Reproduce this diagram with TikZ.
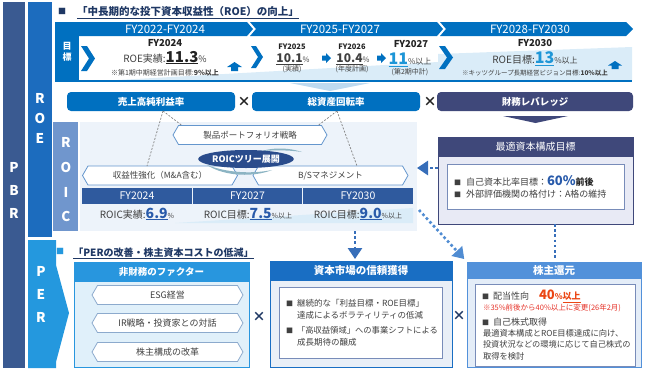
\documentclass[tikz,border=0pt]{standalone}
\usepackage{fontspec}
\setmainfont{Noto Sans CJK JP}
\usetikzlibrary{shapes.symbols,shapes.geometric,arrows.meta,calc}
\definecolor{pbrc}{RGB}{58,90,145}
\definecolor{roec}{RGB}{28,108,190}
\definecolor{mblue}{RGB}{0,112,192}
\definecolor{navy}{RGB}{63,72,122}
\definecolor{roicc}{RGB}{112,150,205}
\definecolor{thead}{RGB}{47,90,158}
\definecolor{lblue}{RGB}{218,236,248}
\definecolor{ltri}{RGB}{190,218,240}
\definecolor{pale}{RGB}{237,243,250}
\definecolor{perc}{RGB}{36,152,222}
\definecolor{hexb}{RGB}{100,150,205}
\definecolor{hexg}{RGB}{140,170,205}
\definecolor{txt}{RGB}{64,64,64}
\definecolor{cyanv}{RGB}{30,150,215}
\definecolor{numb}{RGB}{40,90,170}
\definecolor{dotc}{RGB}{55,110,185}
\definecolor{dotd}{RGB}{80,140,210}
\definecolor{redv}{RGB}{235,70,20}
\definecolor{redn}{RGB}{230,50,40}
\definecolor{lavb}{RGB}{232,234,245}
\definecolor{hdra}{RGB}{40,150,222}
\definecolor{hdrb}{RGB}{25,110,195}
\definecolor{hdrc}{RGB}{82,145,218}
\definecolor{ttl}{RGB}{31,56,100}
\definecolor{tree}{RGB}{42,76,140}
\definecolor{swoosh}{RGB}{140,180,195}
\definecolor{bodya}{RGB}{224,240,250}
\definecolor{bodyb}{RGB}{233,239,247}
\definecolor{bodyc}{RGB}{228,237,248}
\definecolor{innb}{RGB}{120,140,185}
\definecolor{dark}{RGB}{34,34,34}
\definecolor{dash}{RGB}{128,128,128}
\newcommand{\fsz}[1]{\fontsize{#1}{#1}\selectfont}
\begin{document}
\begin{tikzpicture}[x=1pt,y=-1pt,
  every node/.style={inner sep=0pt,outer sep=0pt},
  colletter/.style={text=white,font=\fsz{13.5}\bfseries},
  bantext/.style={text=white,font=\fsz{11.5}},
  factor/.style={rounded corners=4pt,minimum height=19pt,text=white,font=\fsz{9.5}\bfseries},
  hexnode/.style={signal,signal to=east and west,signal pointer angle=120,fill=white,draw=#1,line width=0.8pt,minimum height=19pt,text=txt,font=\fsz{8.5}},
  dashline/.style={draw=dash,line width=0.7pt,dash pattern=on 2pt off 1.5pt},
  dotline/.style={line width=2.6pt,dash pattern=on 2.6pt off 2.6pt},
  bigtip/.style={-{Triangle[length=11pt,width=14pt]}},
  cross/.style={font=\fsz{13}\bfseries},
  boxhead/.style={text=white,font=\fsz{10.5}\bfseries},
  line/.style={anchor=base west,text=txt},
  smallsq/.style={}
]
\useasboundingbox (0,0) rectangle (648,368);

% ---------- left columns ----------
\fill[pbrc] (3,2) rectangle (25,368);
\fill[roec] (28,2) rectangle (52,237);
\fill[perc] (28,240) -- (56,240) -- (56,265) -- (69,313) -- (56,362) -- (56,368) -- (28,368) -- cycle;
\fill[roicc] (53,122) rectangle (78,231);
\node[colletter] (pbrP) at (14,167) {P};
\node[colletter] (pbrB) at (14,190) {B};
\node[colletter] (pbrR) at (14,213) {R};
\node[colletter] (roeR) at (40,98) {R};
\node[colletter] (roeO) at (40,118) {O};
\node[colletter] (roeE) at (40,138) {E};
\node[colletter] (roicR) at (66,142) {R};
\node[colletter] (roicO) at (66,167) {O};
\node[colletter] (roicI) at (66,192) {I};
\node[colletter] (roicC) at (66,216) {C};
\node[colletter] (perP) at (41,271) {P};
\node[colletter] (perE) at (41,294) {E};
\node[colletter] (perR) at (41,317) {R};

% ---------- ROE title ----------
\node[text=ttl,font=\fsz{8}] (sq1) at (62,11.5) {■};
\node[anchor=base,text=ttl,font=\fsz{10.5}\bfseries] (title1) at (188,15.5) {\underline{「中長期的な投下資本収益性（ROE）の向上」}};

% ---------- target panel ----------
\fill[lblue] (100,81) -- (438,62) -- (438,54) -- (632,47) -- (632,81) -- cycle;
\fill[mblue] (55,22) rectangle (79,82);
\fill[mblue] (55,22) -- (247,22) -- (253,29) -- (247,36) -- (55,36) -- cycle;
\fill[mblue] (250,22) -- (437,22) -- (443,29) -- (437,36) -- (250,36) -- (256,29) -- cycle;
\fill[mblue] (440,22) -- (626,22) -- (633,29) -- (626,36) -- (440,36) -- (446,29) -- cycle;
\draw[mblue,line width=1.5pt] (55,81) -- (632,81);
\node[bantext] (ban1) at (165,29) {FY2022-FY2024};
\node[bantext] (ban2) at (340,29) {FY2025-FY2027};
\node[bantext] (ban3) at (530,29) {FY2028-FY2030};
\node[text=white,font=\fsz{9}\bfseries,align=center] (mokuhyo) at (67,52) {目\\[2pt]標};
% chevrons
\fill[mblue] (81,46) -- (87,46) -- (95,58.5) -- (87,71) -- (81,71) -- (89,58.5) -- cycle;
\fill[mblue] (251,46) -- (256,46) -- (263,57) -- (256,68) -- (251,68) -- (258,57) -- cycle;
\fill[mblue] (439,46) -- (445,46) -- (453,57.5) -- (445,69) -- (439,69) -- (447,57.5) -- cycle;
% FY2024
\node[anchor=base,text=dark,font=\fsz{9.5}\bfseries] (fy24) at (165,46.4) {FY2024};
\node[anchor=base,text=txt,font=\fsz{10}] (roe24) at (165,62) {ROE実績:{\fsz{15}\bfseries\color{dark}\underline{11.3}}{\fsz{9}\%}};
\node[anchor=base,text=txt,font=\fsz{7}] (note24) at (165,75.7) {※第1期中期経営計画目標:{\bfseries 9\%以上}};
\fill[mblue] (227,67) -- (234.5,62) -- (242,67) -- (238,67) -- (238,71) -- (231,71) -- (231,67) -- cycle;
% FY2025
\node[anchor=base,text=dark,font=\fsz{7.5}\bfseries] (fy25) at (292,49.7) {FY2025};
\node[anchor=base,text=txt] (roe25) at (293,62.5) {{\fsz{12}\bfseries\underline{10.1}}{\fsz{7.5}\%}};
\node[anchor=base,text=txt,font=\fsz{7}] (n25) at (292,71) {(実績)};
\fill[mblue] (322,55.5) -- (326,55.5) -- (326,53) -- (331,58) -- (326,63) -- (326,60.5) -- (322,60.5) -- cycle;
% FY2026
\node[anchor=base,text=dark,font=\fsz{7.5}\bfseries] (fy26) at (352,49.7) {FY2026};
\node[anchor=base,text=txt] (roe26) at (353,62.5) {{\fsz{12}\bfseries\underline{10.4}}{\fsz{7.5}\%}};
\node[anchor=base,text=txt,font=\fsz{7}] (n26) at (352,71) {(年度計画)};
\fill[mblue] (377,55.5) -- (381,55.5) -- (381,53) -- (386,58) -- (381,63) -- (381,60.5) -- (377,60.5) -- cycle;
% FY2027
\node[anchor=base,text=dark,font=\fsz{9.5}\bfseries] (fy27) at (411,47.4) {FY2027};
\node[anchor=base,text=txt] (roe27) at (410,64.5) {{\fsz{16}\bfseries\color{cyanv}\underline{11}}{\fsz{8}\%以上}};
\node[anchor=base,text=txt,font=\fsz{7}] (n27) at (410,74) {(第2期中計)};
% FY2030
\node[anchor=base,text=dark,font=\fsz{9.5}\bfseries] (fy30) at (535,46.4) {FY2030};
\node[anchor=base,text=txt,font=\fsz{10}] (roe30) at (535,63.5) {ROE目標:{\fsz{16}\bfseries\color{cyanv}\underline{13}}{\fsz{8}\%以上}};
\node[anchor=base,text=txt,font=\fsz{6.5}] (note30) at (535,75.5) {※キッツグループ長期経営ビジョン目標:{\bfseries 10\%以上}};
\fill[mblue] (608,65.5) -- (615,61) -- (622,65.5) -- (618.5,65.5) -- (618.5,69) -- (611.5,69) -- (611.5,65.5) -- cycle;
\fill[ltri] (290,83) -- (370,83) -- (330,91) -- cycle;

% ---------- factor row ----------
\node[factor,fill=mblue,minimum width=168pt] (sales) at (151,101.5) {売上高純利益率};
\node[factor,fill=mblue,minimum width=168pt] (assets) at (336,101.5) {総資産回転率};
\node[factor,fill=navy,minimum width=196pt] (lever) at (535,101.5) {財務レバレッジ};
\node[cross,text=dark] (x1) at (244,102) {×};
\node[cross,text=dark] (x2) at (430,102) {×};
\fill[navy] (503,116) -- (568,116) -- (535.5,123) -- cycle;

% ---------- optimal capital structure ----------
\node[draw=navy,fill=lavb,line width=0.8pt,anchor=north west,minimum width=195pt,minimum height=87pt] (optcap) at (438,137) {};
\fill[navy] (438,137) rectangle (633,157);
\node[text=white,font=\fsz{10}] (optcaph) at (535.5,147) {最適資本構成目標};
\node[draw=innb,fill=white,line width=0.6pt,anchor=north west,minimum width=177pt,minimum height=45pt] (optin) at (447,164) {};
\node[line] (ob1) at (454,185.4) {{\fsz{7}■}\hspace{5pt}{\fsz{9}自己資本比率目標：}{\fsz{13}\bfseries\color{numb}60\%}{\fsz{9}\bfseries\color{dark}前後}};
\node[line] (ob2) at (454,197.4) {{\fsz{7}■}\hspace{5pt}{\fsz{9}外部評価機関の格付け：A格の維持}};

% ---------- ROIC panel ----------
\node[fill=pale,anchor=north west,minimum width=337pt,minimum height=109pt] (roicpanel) at (80,122) {};
\node[hexnode=hexb,minimum width=154pt] (prod) at (250,135) {製品ポートフォリオ戦略};
\node[hexnode=hexb,minimum width=155pt] (rev) at (160,175.5) {収益性強化（M\&A含む）};
\node[hexnode=hexb,minimum width=155pt] (bs) at (330.5,175.5) {B/Sマネジメント};
\draw[dashline] ($(sales.south)+(12,0)$) -- ($(prod.north)+(-68,0)$);
\draw[dashline] ($(sales.south)+(12,0)$) -- ($(rev.north)+(-13,0)$);
\draw[dashline] ($(assets.south)+(1,0)$) -- ($(prod.north)+(68,0)$);
\draw[dashline] ($(assets.south)+(1,0)$) -- ($(bs.north)+(26.5,0)$);
\fill[swoosh] (207,165) .. controls (225,177) and (255,177) .. (272,170) .. controls (252,174) and (228,173) .. (207,165) -- cycle;
\fill[swoosh] (262,151) .. controls (275,147) and (290,148) .. (302,152) .. controls (289,150) and (275,150) .. (262,151) -- cycle;
\node[ellipse,fill=tree,minimum width=92pt,minimum height=18pt,text=white,font=\fsz{9}\bfseries] (tree) at (246,159) {ROICツリー展開};
% table
\fill[lblue] (175,223) -- (413,208) -- (413,223) -- cycle;
\node[fill=thead,minimum width=110pt,minimum height=16pt,text=white,font=\fsz{10.5}] (h24) at (137,196) {FY2024};
\node[fill=thead,minimum width=109pt,minimum height=16pt,text=white,font=\fsz{10.5}] (h27) at (247.5,196) {FY2027};
\node[fill=thead,minimum width=110pt,minimum height=16pt,text=white,font=\fsz{10.5}] (h30) at (358,196) {FY2030};
\node[anchor=base,text=txt,font=\fsz{10}] (v24) at (137,218) {ROIC実績:{\fsz{14}\bfseries\color{numb}\underline{6.9}}{\fsz{7}\%}};
\node[anchor=base,text=txt,font=\fsz{10}] (v27) at (248,218) {ROIC目標:{\fsz{14}\bfseries\color{numb}\underline{7.5}}{\fsz{7}\%以上}};
\node[anchor=base,text=txt,font=\fsz{10}] (v30) at (358,218) {ROIC目標:{\fsz{14}\bfseries\color{numb}\underline{9.0}}{\fsz{7}\%以上}};

% ---------- PER title ----------
\node[text=perc,font=\fsz{8}] (sq2) at (60,251.5) {■};
\node[anchor=base,text=ttl,font=\fsz{10}\bfseries] (title2) at (163.5,256) {\underline{「PERの改善・株主資本コストの低減」}};

% ---------- non-financial factors ----------
\node[draw=hdra,fill=bodya,line width=0.8pt,anchor=north west,minimum width=175pt,minimum height=105pt] (fin) at (74,262) {};
\fill[hdra] (74,262) rectangle (249,282);
\node[text=white,font=\fsz{9.5}\bfseries] (finh) at (161.5,272) {非財務のファクター};
\node[hexnode=hexg,minimum width=151pt,font=\fsz{9}] (esg) at (167.5,295) {ESG経営};
\node[hexnode=hexg,minimum width=151pt,font=\fsz{9}] (ir) at (167.5,323) {IR戦略・投資家との対話};
\node[hexnode=hexg,minimum width=151pt,font=\fsz{9}] (kabu) at (167.5,352) {株主構成の改革};
\node[cross,text=ttl] (x3) at (259,317) {×};

% ---------- capital market trust ----------
\node[draw=hdrb,fill=bodyb,line width=0.8pt,anchor=north west,minimum width=182pt,minimum height=106pt] (capbox) at (270,261) {};
\fill[hdrb] (270,261) rectangle (452,281);
\node[boxhead] (caph) at (361,271) {資本市場の信頼獲得};
\node[draw=innb,fill=white,line width=0.6pt,anchor=north west,minimum width=163pt,minimum height=71pt] (capin) at (279,287) {};
\node[line,font=\fsz{8.5}] (c1) at (286,306.2) {{\fsz{7}■}\hspace{4pt}継続的な「利益目標・ROE目標」};
\node[line,font=\fsz{8.5}] (c2) at (297,318.2) {達成によるボラティリティの低減};
\node[line,font=\fsz{8.3}] (c3) at (286,333.2) {{\fsz{7}■}\hspace{4pt}「高収益領域」への事業シフトによる};
\node[line,font=\fsz{8.5}] (c4) at (297,345.2) {成長期待の醸成};
\node[cross,text=ttl] (x4) at (459,316) {×};

% ---------- shareholder returns ----------
\node[draw=hdrc,fill=bodyc,line width=0.8pt,anchor=north west,minimum width=174pt,minimum height=105pt] (share) at (467,262) {};
\fill[hdrc] (467,262) rectangle (641,279);
\node[boxhead] (shareh) at (554,270.5) {株主還元};
\node[draw=innb,fill=white,line width=0.6pt,anchor=north west,minimum width=160pt,minimum height=82pt] (sharein) at (475,284) {};
\node[line] (s1) at (482,299.5) {{\fsz{7}■}\hspace{4pt}{\fsz{9}配当性向}\hspace{10pt}{\color{redv}\bfseries{\fsz{13}40}{\fsz{8}\%}{\fsz{9}\underline{以上}}}};
\node[line,text=redn,font=\fsz{7.5}] (s2) at (483,310.8) {※35\%前後から40\%以上に変更(26年2月)};
\node[line] (s3) at (482,325.4) {{\fsz{7}■}\hspace{4pt}{\fsz{9}自己株式取得}};
\node[line,font=\fsz{8.3}] (s4) at (483,336) {最適資本構成とROE目標達成に向け、};
\node[line,font=\fsz{8.2}] (s5) at (483,347) {投資状況などの環境に応じて自己株式の};
\node[line,font=\fsz{8.3}] (s6) at (483,359) {取得を検討};

% ---------- dotted connectors ----------
\coordinate (oc) at (438,168);
\draw[dotline,draw=dotc,bigtip] (optcap.west |- oc) -- (roicpanel.east |- oc);
\coordinate (vd) at (355,231);
\draw[dotline,draw=dotc,bigtip,shorten >=2pt] (roicpanel.south -| vd) -- (capbox.north -| vd);
\coordinate (dg) at (419,210);
\draw[dotline,draw=dotd,bigtip,shorten >=4pt] (dg) -- (share.north west);
\coordinate (vs) at (555,226);
\draw[dotline,draw=dotc,shorten >=3pt] (optcap.south -| vs) -- (share.north -| vs);
\end{tikzpicture}
\end{document}
